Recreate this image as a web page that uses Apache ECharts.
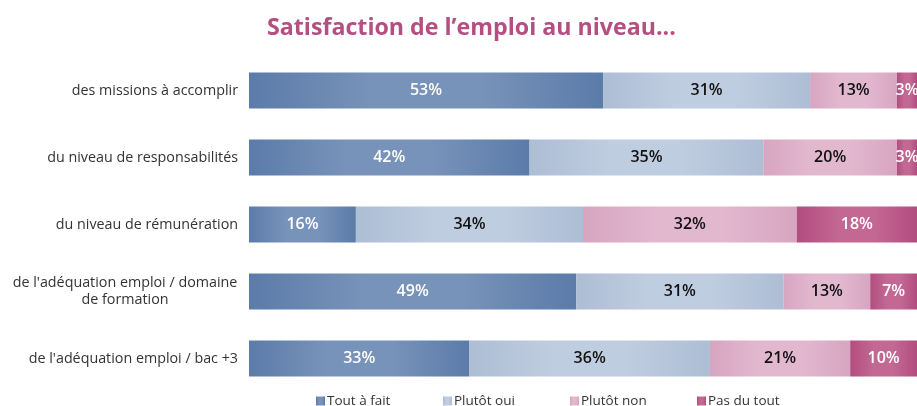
<!DOCTYPE html>
<html>
<head>
<meta charset="utf-8">
<script src="https://cdn.jsdelivr.net/npm/echarts@6/dist/echarts.min.js"></script>
<style>
  html, body { margin: 0; padding: 0; background: #fff; }
  #container { width: 917px; height: 406px; }
</style>
</head>
<body>
<div id="container"></div>
<script>
const categories = [
    "des missions à accomplir",
    "du niveau de responsabilités",
    "du niveau de rémunération",
    "de l'adéquation emploi / domaine\nde formation",
    "de l'adéquation emploi / bac +3"
];
const seriesNames = ['Tout à fait', 'Plutôt oui', 'Plutôt non', 'Pas du tout'];
const toutAFait = [53, 42, 16, 49, 33];
const plutotOui = [31, 35, 34, 31, 36];
const plutotNon = [13, 20, 32, 13, 21];
const pasDuTout = [3, 3, 18, 7, 10];

function draw_bars() {
    let dom = document.getElementById("container");
    let myChart = echarts.init(dom);

    // edge colour, centre colour, label colour
    let styles = [
        ['#5b7ba9', '#7893b9', '#ffffff'],
        ['#adbdd4', '#bfcde0', '#111111'],
        ['#d7a5c1', '#e2b8cf', '#111111'],
        ['#b24d7f', '#c26893', '#ffffff']
    ];
    let values = [toutAFait, plutotOui, plutotNon, pasDuTout];

    let series = seriesNames.map(function (name, i) {
        return {
            name: name,
            type: 'bar',
            stack: 'total',
            barWidth: 36,
            data: values[i],
            itemStyle: {
                color: new echarts.graphic.LinearGradient(0, 0, 1, 0, [
                    {offset: 0, color: styles[i][0]},
                    {offset: 0.35, color: styles[i][1]},
                    {offset: 0.65, color: styles[i][1]},
                    {offset: 1, color: styles[i][0]}
                ])
            },
            label: {
                show: true,
                position: 'inside',
                formatter: '{c}%',
                color: styles[i][2],
                fontFamily: 'Open Sans',
                fontSize: 16,
                fontWeight: 600
            }
        };
    });

    // one legend per item, evenly spaced like the original
    let legends = seriesNames.map(function (name, i) {
        return {
            bottom: -7,
            left: 311 + i * 127,
            itemWidth: 9,
            itemHeight: 9,
            icon: 'rect',
            data: [name],
            textStyle: {
                color: '#333',
                fontFamily: 'Open Sans',
                fontSize: 13.5,
                padding: [0, 0, 0, -3]
            }
        };
    });

    let option = {
        animation: false,
        title: {
            text: 'Satisfaction de l\u2019emploi au niveau...',
            left: 262,
            top: 12,
            textStyle: {
                color: '#b54f82',
                fontFamily: 'Open Sans',
                fontSize: 23.2,
                fontWeight: 'bold'
            }
        },
        legend: legends,
        grid: {
            left: 249,
            right: -4,
            top: 57,
            bottom: 14,
            containLabel: false
        },
        xAxis: {
            type: 'value',
            min: 0,
            max: 100,
            show: false
        },
        yAxis: {
            type: 'category',
            inverse: true,
            data: categories,
            axisLine: {show: false},
            axisTick: {show: false},
            axisLabel: {
                margin: 11,
                color: '#333',
                fontFamily: 'Open Sans',
                fontSize: 14.3,
                lineHeight: 17,
                formatter: function (value) {
                    if (value.indexOf('\n') >= 0) {
                        return value.split('\n').map(function (s) {
                            return '{c|' + s + '}';
                        }).join('\n');
                    }
                    return value;
                },
                rich: {
                    c: {
                        width: 226,
                        align: 'center',
                        color: '#333',
                        fontFamily: 'Open Sans',
                        fontSize: 14.3,
                        lineHeight: 17
                    }
                }
            }
        },
        series: series
    };

    if (option && typeof option === "object") {
        myChart.setOption(option, true);
    }
}

draw_bars();
</script>
</body>
</html>
